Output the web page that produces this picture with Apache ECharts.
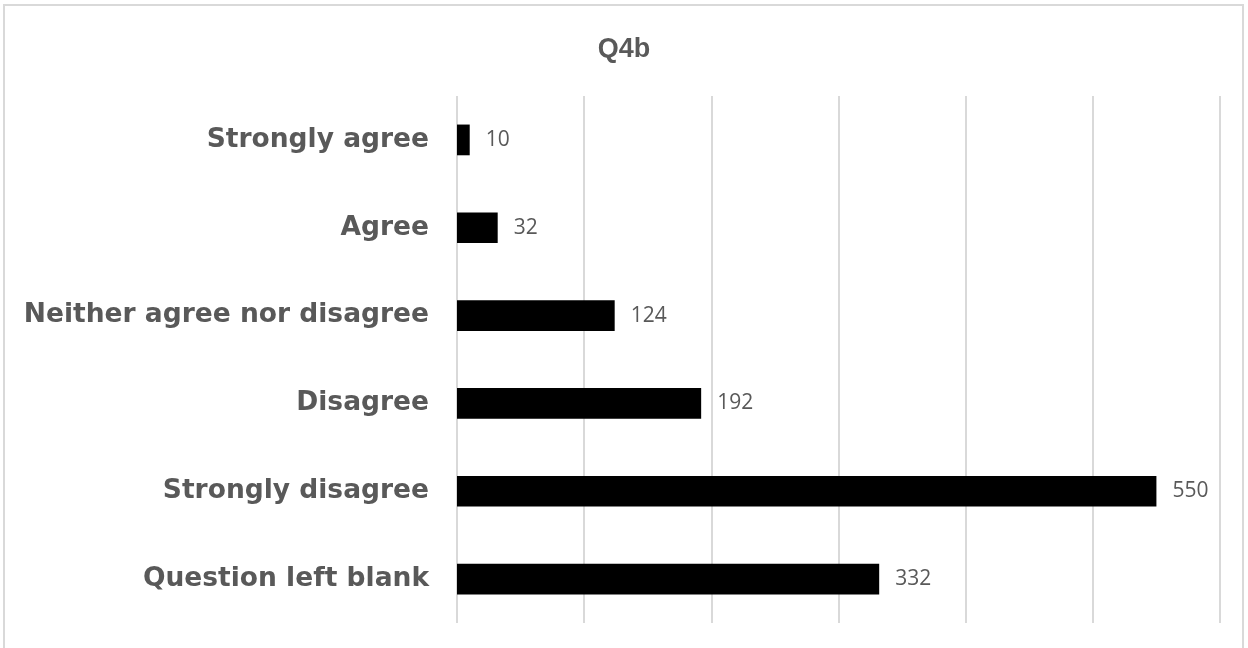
<!DOCTYPE html>
<html><head><meta charset="utf-8">
<script src="https://cdn.jsdelivr.net/npm/echarts@6/dist/echarts.min.js"></script>
<style>html,body{margin:0;padding:0;background:#fff}#box{position:absolute;left:3px;top:4px;width:1241px;height:650px;border:2px solid #d9d9d9;box-sizing:border-box}#c{width:1248px;height:648px}</style>
</head><body><div id="box"></div><div id="c"></div>
<script>
const categories = ["Strongly agree","Agree","Neither agree nor disagree","Disagree","Strongly disagree","Question left blank"];
const values = [10,32,124,192,550,332];
const chart = echarts.init(document.getElementById('c'));
chart.setOption({
  animation:false,
  title:{text:'Q4b',left:'center',top:31,textStyle:{fontFamily:'"Liberation Sans", Arial, sans-serif',fontWeight:'bold',fontSize:27,color:'#595959'}},
  grid:{left:457,right:28,top:96,bottom:25},
  xAxis:{type:'value',min:0,max:600,interval:100,axisLabel:{show:false},axisLine:{show:false},axisTick:{show:false},
    splitLine:{lineStyle:{color:'#d9d9d9',width:2}}},
  yAxis:{type:'category',data:categories,inverse:true,axisLine:{show:false},axisTick:{show:false},
    axisLabel:{margin:28,fontFamily:'DejaVu Sans',fontWeight:'bold',fontSize:26.5,color:'#595959'}},
  series:[{type:'bar',data:values,barWidth:'35%',itemStyle:{color:'#000'},
    label:{show:true,position:'right',distance:16,fontFamily:'Open Sans',fontSize:21,color:'#595959'}}]
});
</script></body></html>
